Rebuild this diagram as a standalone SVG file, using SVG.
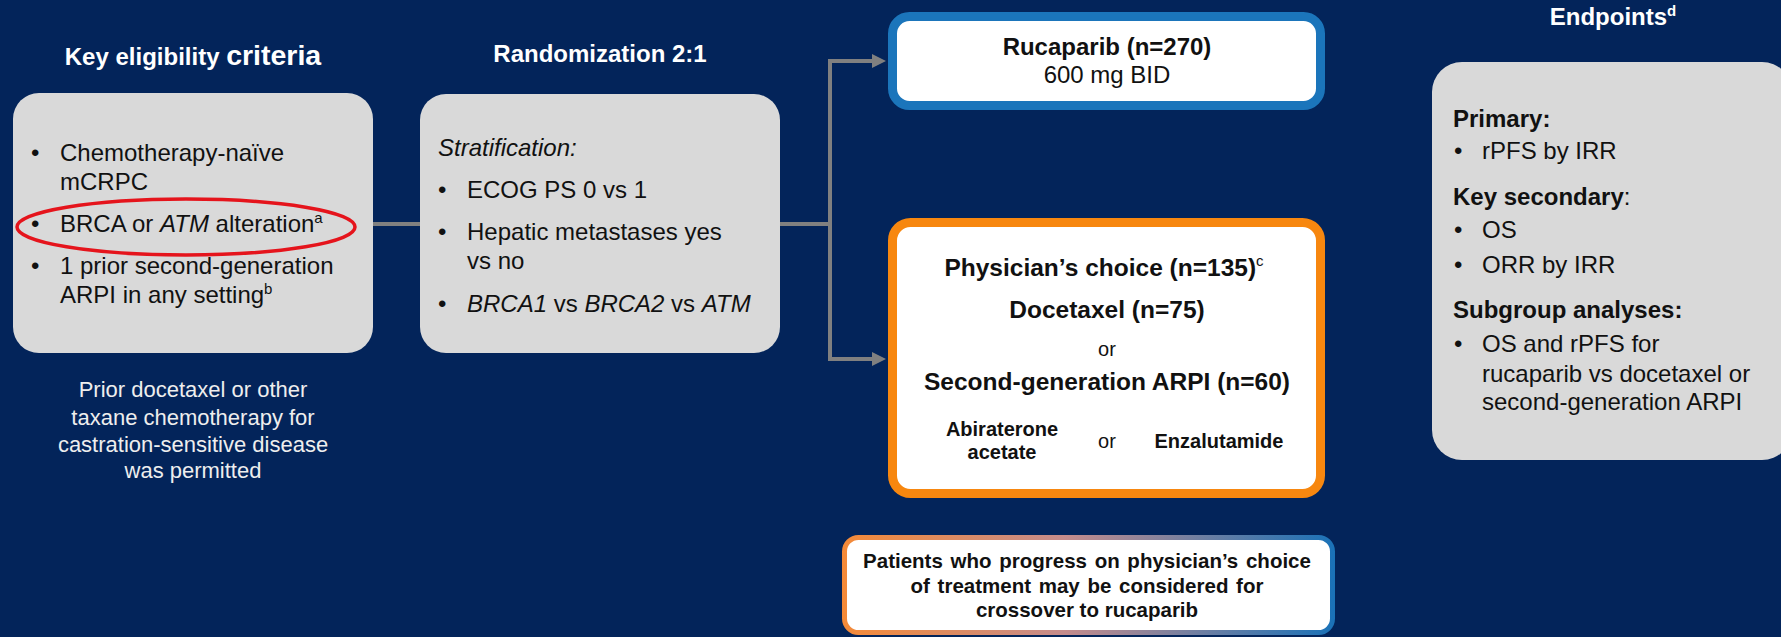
<svg xmlns="http://www.w3.org/2000/svg" width="1781" height="637" viewBox="0 0 1781 637">
<style>
text{font-family:"Liberation Sans",Arial,sans-serif;}
.title{fill:#ffffff;font-weight:bold;}
.box{fill:#d9d9d9;}
.t{fill:#111111;}
.b{font-weight:bold;}
.i{font-style:italic;}
.c{text-anchor:middle;}
.conn{fill:none;stroke:#808080;stroke-width:4;}
</style>
<defs>
<marker id="arr" viewBox="0 0 14 14" refX="2" refY="7" markerWidth="14" markerHeight="14" markerUnits="userSpaceOnUse" orient="auto">
<path d="M0,0 L14,7 L0,14 z" fill="#808080"/>
</marker>
<linearGradient id="grad" x1="842" y1="0" x2="1335" y2="0" gradientUnits="userSpaceOnUse">
<stop offset="0" stop-color="#f48a38"/>
<stop offset="0.45" stop-color="#c58c8c"/>
<stop offset="1" stop-color="#1a72b8"/>
</linearGradient>
</defs>
<rect x="0" y="0" width="1781" height="637" fill="#03245a"/>

<g id="connectors">
<line class="conn" x1="373" y1="224" x2="420" y2="224"/>
<path class="conn" d="M780,224 H830 V61 H874" marker-end="url(#arr)"/>
<path class="conn" d="M780,224 H830 V359 H874" marker-end="url(#arr)"/>
</g>

<g id="eligibility">
<text class="title" x="193" y="65" text-anchor="middle"><tspan font-size="24">Key eligibility </tspan><tspan font-size="28.5">criteria</tspan></text>
<rect class="box" x="13" y="93" width="360" height="260" rx="26"/>
<g class="t" font-size="24">
<text x="31" y="161">•</text><text x="60" y="161">Chemotherapy-naïve</text>
<text x="60" y="190">mCRPC</text>
<text x="31" y="232">•</text><text x="60" y="232">BRCA or <tspan class="i">ATM</tspan> alteration<tspan font-size="15" dy="-9">a</tspan></text>
<text x="31" y="274">•</text><text x="60" y="274">1 prior second-generation</text>
<text x="60" y="303">ARPI in any setting<tspan font-size="15" dy="-9">b</tspan></text>
</g>
<ellipse cx="186" cy="227" rx="169" ry="28" fill="none" stroke="#e5141c" stroke-width="3.5"/>
</g>

<g id="footnote">
<g fill="#eeeeee" font-size="22" text-anchor="middle">
<text x="193" y="397">Prior docetaxel or other</text>
<text x="193" y="425">taxane chemotherapy for</text>
<text x="193" y="452">castration-sensitive disease</text>
<text x="193" y="478">was permitted</text>
</g>
</g>

<g id="randomization">
<text class="title" x="600" y="62" text-anchor="middle" font-size="24">Randomization 2:1</text>
<rect class="box" x="420" y="94" width="360" height="259" rx="26"/>
<g class="t" font-size="24">
<text class="i" x="438" y="156">Stratification:</text>
<text x="438" y="198">•</text><text x="467" y="198">ECOG PS 0 vs 1</text>
<text x="438" y="240">•</text><text x="467" y="240">Hepatic metastases yes</text>
<text x="467" y="269">vs no</text>
<text x="438" y="312">•</text><text x="467" y="312"><tspan class="i">BRCA1</tspan> vs <tspan class="i">BRCA2</tspan> vs <tspan class="i">ATM</tspan></text>
</g>
</g>

<g id="rucaparib">
<rect x="892.5" y="16.5" width="428" height="89" rx="17" fill="#ffffff" stroke="#1b75bb" stroke-width="9"/>
<g class="t" font-size="24">
<text class="b c" x="1107" y="55">Rucaparib (n=270)</text>
<text class="c" x="1107" y="83">600 mg BID</text>
</g>
</g>

<g id="physician">
<rect x="892.5" y="222.5" width="428" height="271" rx="18" fill="#ffffff" stroke="#f7870f" stroke-width="9"/>
<g class="t">
<text class="b c" x="1104" y="276" font-size="24.5">Physician’s choice (n=135)<tspan font-size="15" font-weight="normal" dy="-10">c</tspan></text>
<text class="b c" x="1107" y="318" font-size="24.5">Docetaxel (n=75)</text>
<text class="c" x="1107" y="356" font-size="20">or</text>
<text class="b c" x="1107" y="390" font-size="24.5">Second-generation ARPI (n=60)</text>
<text class="b c" x="1002" y="436" font-size="20">Abiraterone</text>
<text class="b c" x="1002" y="459" font-size="20">acetate</text>
<text class="c" x="1107" y="448" font-size="20">or</text>
<text class="b c" x="1219" y="448" font-size="20">Enzalutamide</text>
</g>
</g>

<g id="crossover">
<rect x="844.5" y="537.5" width="488" height="95" rx="14" fill="#ffffff" stroke="url(#grad)" stroke-width="5"/>
<g class="t b c" font-size="20.5">
<text x="1087" y="568" word-spacing="2">Patients who progress on physician’s choice</text>
<text x="1087" y="593" word-spacing="2">of treatment may be considered for</text>
<text x="1087" y="617">crossover to rucaparib</text>
</g>
</g>

<g id="endpoints">
<text class="title" x="1613" y="25" text-anchor="middle" font-size="24">Endpoints<tspan font-size="15" dy="-9">d</tspan></text>
<rect class="box" x="1432" y="62" width="360" height="398" rx="30"/>
<g class="t" font-size="24">
<text class="b" x="1453" y="127">Primary:</text>
<text x="1454" y="159">•</text><text x="1482" y="159">rPFS by IRR</text>
<text x="1453" y="205"><tspan class="b">Key secondary</tspan>:</text>
<text x="1454" y="238">•</text><text x="1482" y="238">OS</text>
<text x="1454" y="273">•</text><text x="1482" y="273">ORR by IRR</text>
<text class="b" x="1453" y="318">Subgroup analyses:</text>
<text x="1454" y="352">•</text><text x="1482" y="352">OS and rPFS for</text>
<text x="1482" y="382">rucaparib vs docetaxel or</text>
<text x="1482" y="410">second-generation ARPI</text>
</g>
</g>
</svg>
